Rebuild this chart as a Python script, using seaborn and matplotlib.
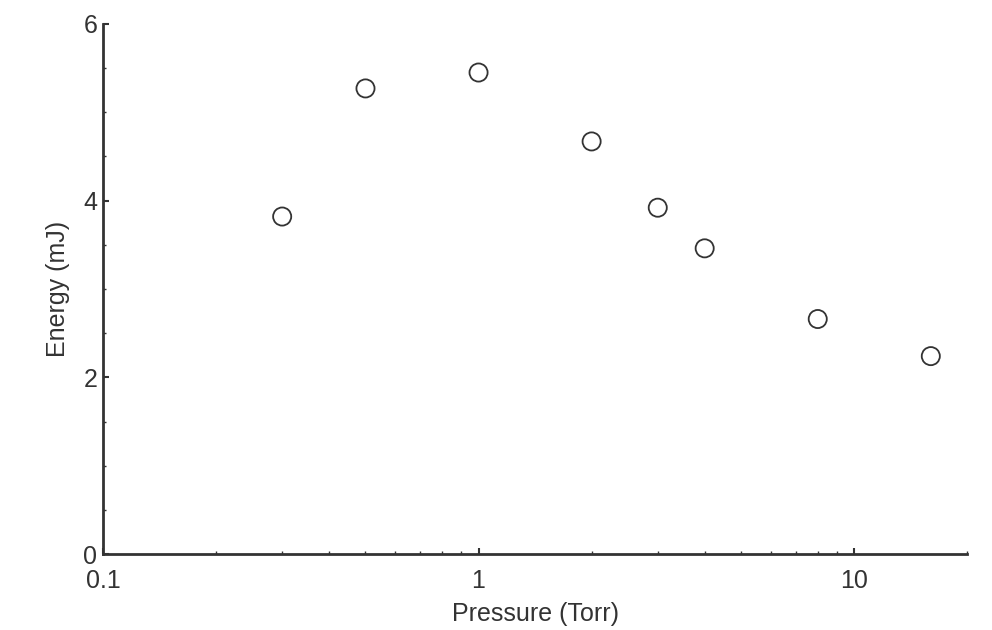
import matplotlib.pyplot as plt
import seaborn as sns
import pandas as pd
from matplotlib.ticker import LogLocator, FixedLocator, MultipleLocator, FixedFormatter, NullFormatter

pressure = [0.3, 0.5, 1, 2, 3, 4, 8, 16]
energy = [3.82, 5.27, 5.45, 4.67, 3.92, 3.46, 2.66, 2.24]
x_ticks = [0.1, 1, 10]
x_tick_labels = ["0.1", "1", "10"]
y_ticks = [0, 2, 4, 6]

sns.set_style("ticks")
plt.rcParams['font.family'] = ['Liberation Sans', 'DejaVu Sans']

ink = "#333333"
df = pd.DataFrame({"Pressure": pressure, "Energy": energy})

fig = plt.figure(figsize=(9.92, 6.3), dpi=100)
ax = fig.add_axes([0.1038, 0.1206, 0.8712, 0.8414])
sns.scatterplot(data=df, x="Pressure", y="Energy", ax=ax, s=170,
                facecolor="none", edgecolor=ink, linewidth=1.3, zorder=3)

ax.set_xscale("log")
ax.set_xlim(0.1, 20)
ax.set_ylim(0, 6)
ax.xaxis.set_major_locator(FixedLocator(x_ticks))
ax.xaxis.set_major_formatter(FixedFormatter(x_tick_labels))
ax.xaxis.set_minor_locator(LogLocator(base=10, subs=range(2, 10)))
ax.xaxis.set_minor_formatter(NullFormatter())
ax.yaxis.set_major_locator(FixedLocator(y_ticks))
ax.yaxis.set_minor_locator(MultipleLocator(0.5))

for s in ["top", "right"]:
    ax.spines[s].set_visible(False)
for s in ["left", "bottom"]:
    ax.spines[s].set_color(ink)
    ax.spines[s].set_linewidth(2)

ax.tick_params(which="both", direction="in", color=ink, labelcolor=ink, labelsize=18)
ax.tick_params(which="major", length=4, width=1.5)
ax.tick_params(axis="x", which="major", pad=11)
ax.tick_params(axis="y", which="major", pad=4)
ax.tick_params(which="minor", length=2, width=1)

ax.set_xlabel("Pressure (Torr)", fontsize=18, color=ink, labelpad=6)
ax.set_ylabel("Energy (mJ)", fontsize=18, color=ink, labelpad=10)

fig.savefig("out.png", dpi=100)
